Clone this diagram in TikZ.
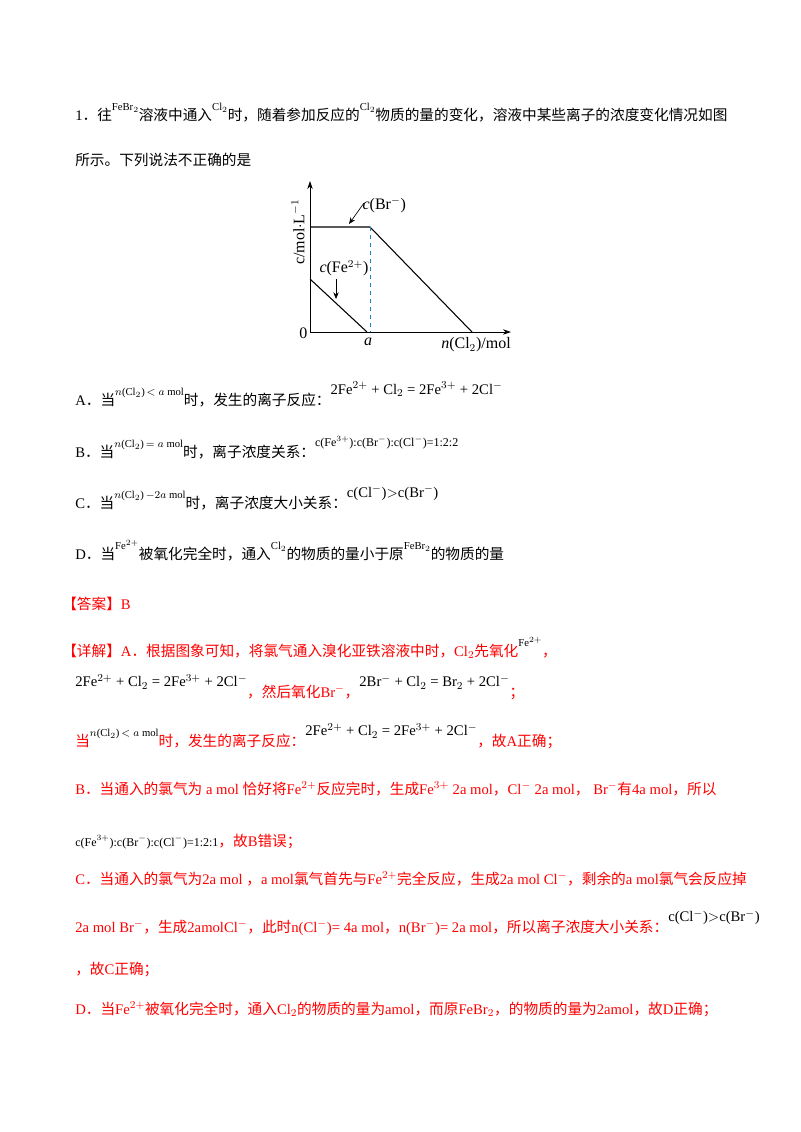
\documentclass[tikz,border=0pt]{standalone}
\usepackage{fontspec}
\setmainfont{Liberation Serif}
\newfontfamily\zh{Noto Sans CJK SC}
\usetikzlibrary{arrows.meta}
\newcommand{\up}[1]{\raisebox{1.4ex}{\footnotesize #1}}
\newcommand{\Z}[1]{{\zh #1}}
\begin{document}
\begin{tikzpicture}[x=0.75pt,y=-0.75pt,
  line/.style={anchor=base west,inner sep=0pt,font=\fontsize{11pt}{13pt}\selectfont},
  rline/.style={line,text=red},
  ax/.style={-{Stealth[length=6pt,width=4pt]},line width=0.6pt},
  cv/.style={line width=0.8pt},
  lab/.style={inner sep=1pt,font=\fontsize{12pt}{14pt}\selectfont}]
\useasboundingbox (0,0) rectangle (800,1132);
\fill[white] (0,0) rectangle (800,1132);
% question
\node[line] (l1) at (75,120) {1\Z{．往}\up{FeBr$_2$}\Z{溶液中通入}\up{Cl$_2$}\Z{时，随着参加反应的}\up{Cl$_2$}\Z{物质的量的变化，溶液中某些离子的浓度变化情况如图}};
\node[line] (l2) at (75,165) {\Z{所示。下列说法不正确的是}};
% chart
\coordinate (O) at (310,332);
\coordinate (yt) at (310,181);
\coordinate (xe) at (511,332);
\draw[ax] (O) -- (yt);
\draw[ax] (O) -- (xe);
\coordinate (b1) at (310,227); \coordinate (b2) at (370,227); \coordinate (b3) at (472,332);
\draw[cv] (b1) -- (b2) -- (b3);
\coordinate (f1) at (310,279); \coordinate (f2) at (367,332);
\draw[cv] (f1) -- (f2);
\draw[dashed,cyan!70!blue,line width=0.6pt] (b2) -- (370,332);
\node[lab,anchor=west] (lbr) at (361,205) {\textit{c}(Br$^{-}$)};
\node[lab,anchor=south] (lfe) at (344,278) {\textit{c}(Fe$^{2+}$)};
\coordinate (bra) at (364,203); \coordinate (brb) at (349,224);
\draw[ax,line width=0.5pt,-{Stealth[length=5pt,width=4pt]}] (bra) -- (brb);
\coordinate (fea) at (336,279); \coordinate (feb) at (336,299);
\draw[ax,line width=0.5pt,-{Stealth[length=5pt,width=4pt]}] (fea) -- (feb);
\node[lab,rotate=90] (ylab) at (298,232) {c/mol$\cdot$L$^{-1}$};
\node[lab,anchor=east] (zero) at (309,333) {0};
\node[lab,anchor=north] (la) at (368,336) {\textit{a}};
\node[lab,anchor=north] (lx) at (476,336) {\textit{n}(Cl$_2$)/mol};
% options
\node[line] (oA) at (75,405) {A\Z{．当}\up{$n$(Cl$_2$)$\,<a$ mol}\Z{时，发生的离子反应：}\raisebox{1.6ex}{2Fe$^{2+}$ + Cl$_2$ = 2Fe$^{3+}$ + 2Cl$^{-}$}};
\node[line] (oB) at (75,457) {B\Z{．当}\up{$n$(Cl$_2$)$\,=a$ mol}\Z{时，离子浓度关系：}\raisebox{1.6ex}{\small c(Fe$^{3+}$):c(Br$^{-}$):c(Cl$^{-}$)=1:2:2}};
\node[line] (oC) at (75,508) {C\Z{．当}\up{$n$(Cl$_2$)$\,-2a$ mol}\Z{时，离子浓度大小关系：}\raisebox{1.6ex}{c(Cl$^{-}$)$>$c(Br$^{-}$)}};
\node[line] (oD) at (75,559) {D\Z{．当}\up{Fe$^{2+}$}\Z{被氧化完全时，通入}\up{Cl$_2$}\Z{的物质的量小于原}\up{FeBr$_2$}\Z{的物质的量}};
% answer
\node[rline] (ans) at (62,609) {\Z{【答案】}B};
\node[rline] (d1) at (62,656) {\Z{【详解】}A\Z{．根据图象可知，将氯气通入溴化亚铁溶液中时，}Cl$_2$\Z{先氧化}\textcolor{black}{\up{Fe$^{2+}$}}\Z{，}};
\node[rline] (d2) at (75,697) {\textcolor{black}{\raisebox{1.5ex}{2Fe$^{2+}$ + Cl$_2$ = 2Fe$^{3+}$ + 2Cl$^{-}$}}\Z{，然后氧化}Br$^{-}$\Z{，}\textcolor{black}{\raisebox{1.5ex}{2Br$^{-}$ + Cl$_2$ = Br$_2$ + 2Cl$^{-}$}}\Z{；}};
\node[rline] (d3) at (75,746) {\Z{当}\textcolor{black}{\up{$n$(Cl$_2$)$\,<a$ mol}}\Z{时，发生的离子反应：}\textcolor{black}{\raisebox{1.5ex}{2Fe$^{2+}$ + Cl$_2$ = 2Fe$^{3+}$ + 2Cl$^{-}$}}\Z{，故}A\Z{正确；}};
\node[rline] (d4) at (75,794) {B\Z{．当通入的氯气为} a mol \Z{恰好将}Fe$^{2+}$\Z{反应完时，生成}Fe$^{3+}$\ 2a mol\Z{，}Cl$^{-}$\ 2a mol\Z{，}\ Br$^{-}$\Z{有}4a mol\Z{，所以}};
\node[rline] (d5) at (75,846) {\textcolor{black}{\small c(Fe$^{3+}$):c(Br$^{-}$):c(Cl$^{-}$)=1:2:1}\Z{，故}B\Z{错误；}};
\node[rline] (d6) at (75,884) {C\Z{．当通入的氯气为}2a mol\ \Z{，}a mol\Z{氯气首先与}Fe$^{2+}$\Z{完全反应，生成}2a mol Cl$^{-}$\Z{，剩余的}a mol\Z{氯气会反应掉}};
\node[rline] (d7) at (75,932) {2a mol Br$^{-}$\Z{，生成}2amolCl$^{-}$\Z{，此时}n(Cl$^{-}$)= 4a mol\Z{，}n(Br$^{-}$)= 2a mol\Z{，所以离子浓度大小关系：}\textcolor{black}{\raisebox{1.5ex}{c(Cl$^{-}$)$>$c(Br$^{-}$)}}};
\node[rline] (d8) at (75,974) {\Z{，故}C\Z{正确；}};
\node[rline] (d9) at (75,1014) {D\Z{．当}Fe$^{2+}$\Z{被氧化完全时，通入}Cl$_2$\Z{的物质的量为}amol\Z{，而原}FeBr$_2$\Z{，的物质的量为}2amol\Z{，故}D\Z{正确；}};
\end{tikzpicture}
\end{document}
